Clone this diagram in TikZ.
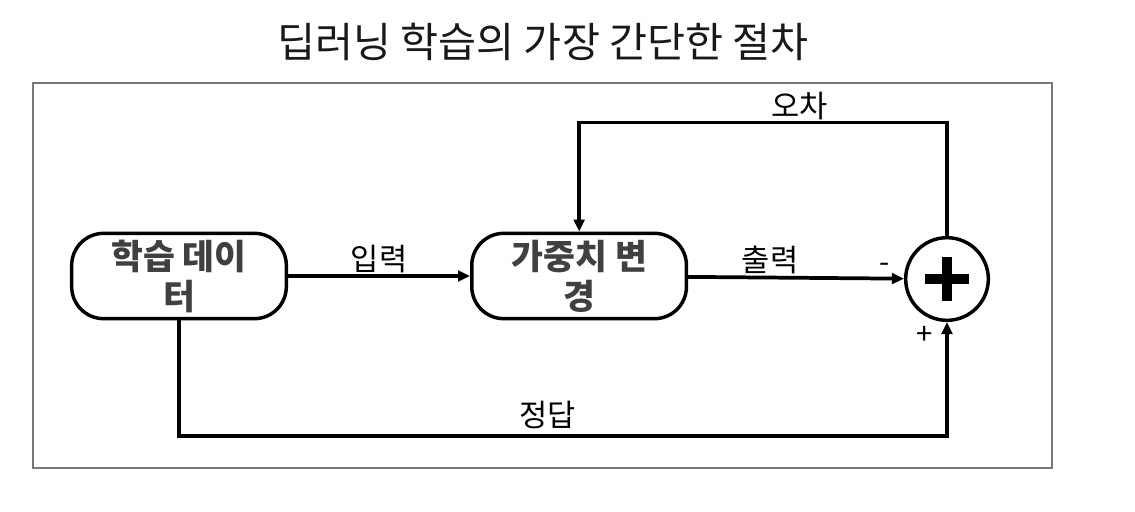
\documentclass[tikz,border=0pt]{standalone}
\usepackage{fontspec}
\setmainfont{Noto Sans CJK KR}
\usetikzlibrary{arrows.meta, positioning, calc}
\definecolor{frameGray}{RGB}{120,120,120}
\definecolor{textGray}{RGB}{64,64,64}
\tikzset{
  dl/box/.style={rectangle, rounded corners=24pt, draw=black, fill=white,
    minimum width=161pt, minimum height=64pt, line width=2.6pt,
    font=\fontsize{26}{30}\selectfont\bfseries\color{textGray},
    align=center, inner sep=0pt},
  dl/sum/.style={circle, draw=black, fill=white, minimum size=62pt,
    line width=2.6pt, inner sep=0pt},
  dl/arr/.style={-{Triangle[length=9pt,width=8pt]}, line width=2.8pt,
    draw=black},
  dl/lbl/.style={font=\fontsize{23}{26}\selectfont, inner sep=1pt},
  dl/sgn/.style={font=\fontsize{22}{24}\selectfont, inner sep=1pt}
}
\begin{document}
\begin{tikzpicture}[x=0.75pt, y=-0.75pt]
  \useasboundingbox (0,0) rectangle (1135,511);
  \node[font=\fontsize{31}{36}\selectfont, text=black!90] (title) at (543,42)
        {딥러닝 학습의 가장 간단한 절차};
  \draw[frameGray, line width=1pt] (33,83) rectangle (1052,468);

  \node[dl/box] (data) at (179,276) {학습 데이\\터};
  \node[dl/box, right=136.5pt of data] (wchg) {가중치 변\\경};
  \node[dl/sum] (sum) at (947,279) {};
  \draw[line width=6.8pt] ($(sum.center)+(-22,0)$) -- ($(sum.center)+(22,0)$);
  \draw[line width=6.8pt] ($(sum.center)+(0,-22)$) -- ($(sum.center)+(0,22)$);

  \draw[dl/arr] (data) -- node[dl/lbl, above]{입력} (wchg);
  \draw[dl/arr] (wchg) -- node[dl/lbl, pos=0.38, above]{출력}
        node[dl/sgn, pos=0.91, above=2pt]{-} (sum);
  \draw[dl/arr] (sum.north) |- node[dl/lbl, pos=0.7, above]{오차}
        ($(wchg.north)+(0,-109)$) -- (wchg.north);
  \draw[dl/arr] (data.south) |- node[dl/lbl, pos=0.74, above=3pt]{정답}
        ($(sum.south)+(0,114)$) -- node[dl/sgn, pos=0.88, left=8pt]{+} (sum.south);
\end{tikzpicture}
\end{document}
